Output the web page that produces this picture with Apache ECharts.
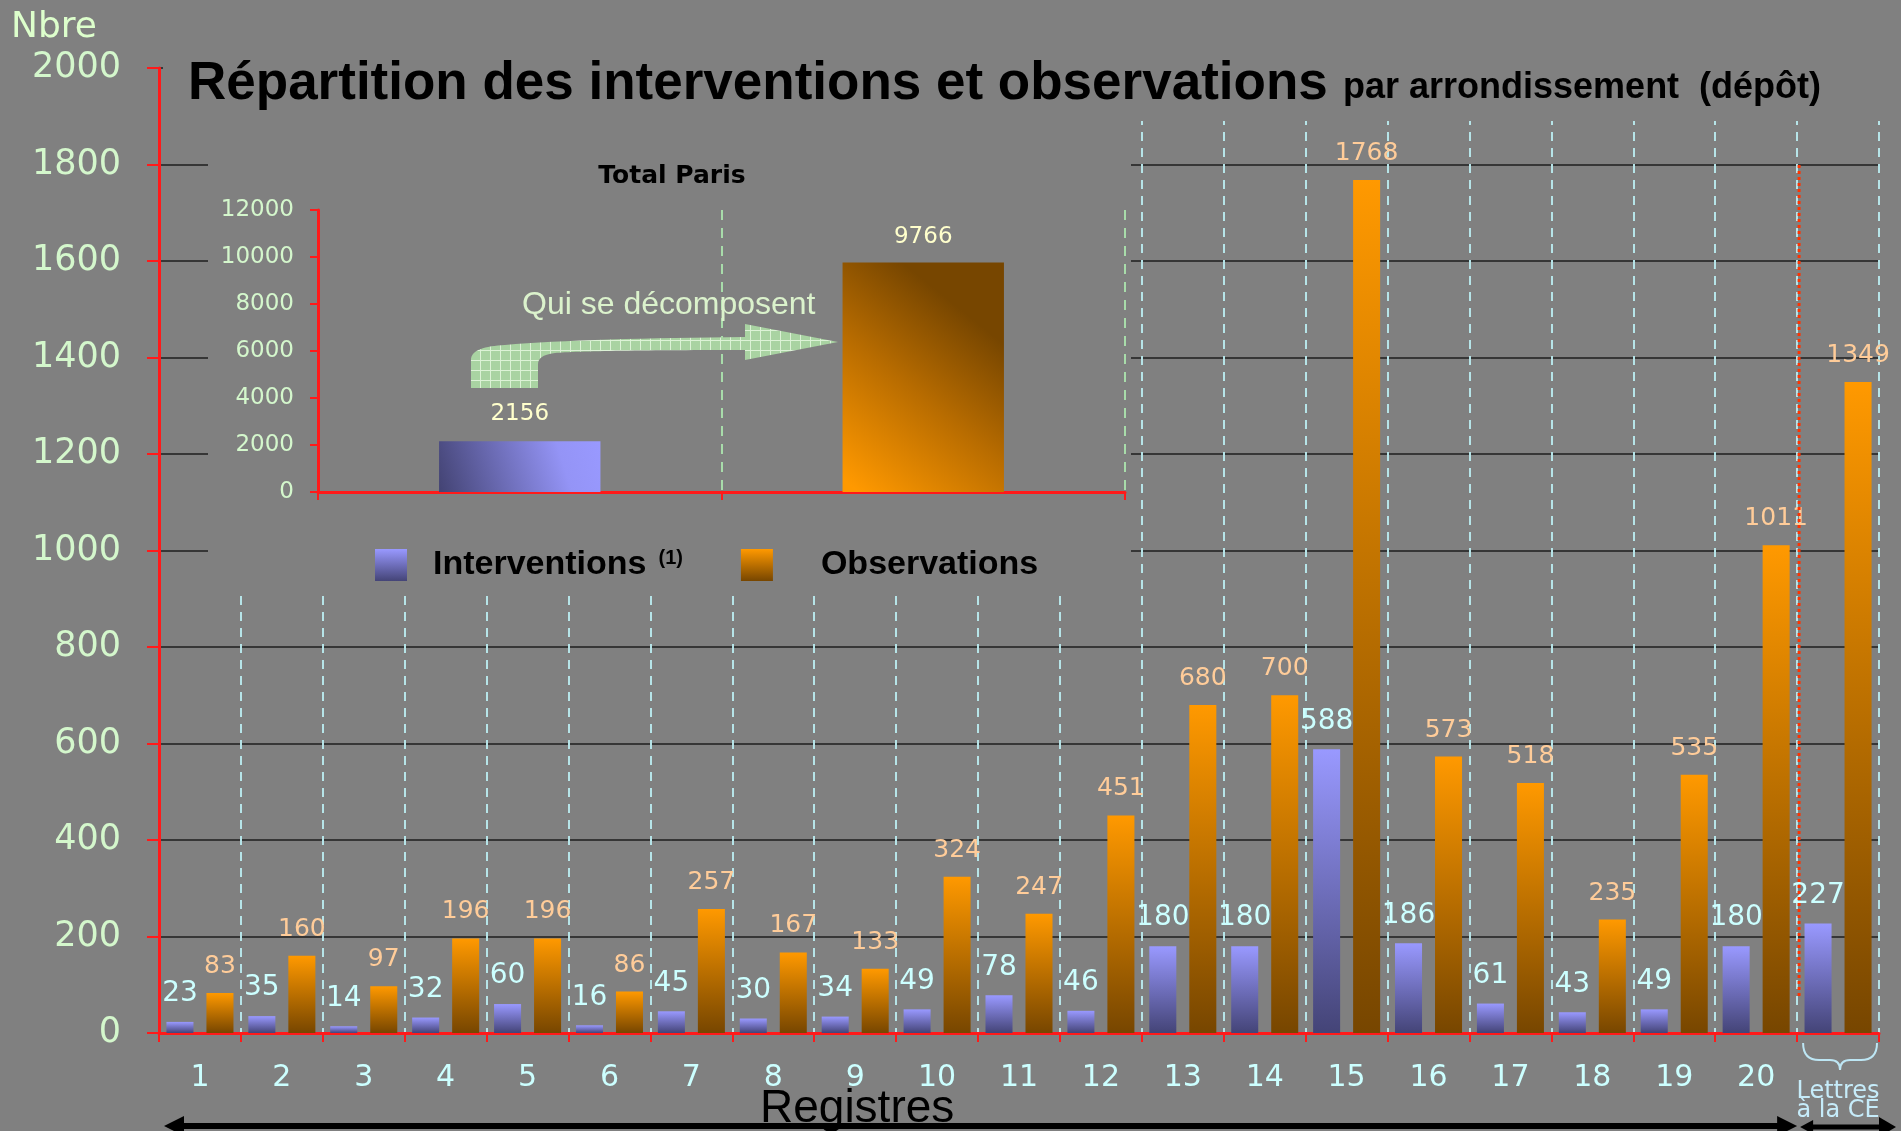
<!DOCTYPE html>
<html>
<head>
<meta charset="utf-8">
<title>Répartition des interventions et observations</title>
<script src="https://cdn.jsdelivr.net/npm/echarts@6/dist/echarts.min.js"></script>
<style>
html, body { margin: 0; padding: 0; background: #808080; }
#chart { width: 1901px; height: 1131px; }
</style>
</head>
<body>
<div id="chart"></div>
<script>
// arrondissements 1..20 + lettres
const categories = ['1', '2', '3', '4', '5', '6', '7', '8', '9', '10',
  '11', '12', '13', '14', '15', '16', '17', '18', '19', '20', 'Lettres à la CE']
const interventions = [23, 35, 14, 32, 60, 16, 45, 30, 34, 49,
  78, 46, 180, 180, 588, 186, 61, 43, 49, 180, 227]
const observations = [83, 160, 97, 196, 196, 86, 257, 167, 133, 324,
  247, 451, 680, 700, 1768, 573, 518, 235, 535, 1011, 1349]

// encart "Total Paris"
const totalCategories = ['Interventions', 'Observations']
const totals = [2156, 9766]

const SANS = "'Liberation Sans', Arial, sans-serif"
const WIDE = "'DejaVu Sans', Verdana, sans-serif"
const BG = '#808080'
const RED = '#ff1a1a'
const LETTRES = 'Lettres à la CE'

const GRID = { left: 159, top: 68, width: 1720, height: 965 }
const CAT_W = GRID.width / categories.length
const LETTRES_X = GRID.left + 20 * CAT_W
const INSET = { left: 318, top: 210, width: 807, height: 282 }

const interGrad = new echarts.graphic.LinearGradient(0, 0, 0, 1, [
  { offset: 0, color: '#9999ff' },
  { offset: 1, color: '#444477' },
])
const obsGrad = new echarts.graphic.LinearGradient(0, 0, 0, 1, [
  { offset: 0, color: '#ff9900' },
  { offset: 1, color: '#774600' },
])
const insetInterGrad = new echarts.graphic.LinearGradient(0, 1, 1, 0, [
  { offset: 0, color: '#434373' },
  { offset: 0.75, color: '#9494f6' },
  { offset: 1, color: '#9999ff' },
])
const insetObsGrad = new echarts.graphic.LinearGradient(0.1, 1, 0.9, 0.3, [
  { offset: 0, color: '#ff9900' },
  { offset: 0.55, color: '#b86c00' },
  { offset: 1, color: '#774600' },
])

// motif quadrillé de la flèche
const pat = document.createElement('canvas')
pat.width = 10
pat.height = 10
const pctx = pat.getContext('2d')
pctx.fillStyle = '#a9d3a2'
pctx.fillRect(0, 0, 10, 10)
pctx.fillStyle = '#dcf2d6'
pctx.fillRect(0, 0, 10, 1)
pctx.fillRect(0, 0, 1, 10)

// formes libres (flèche courbe, accolade)
const braceX0 = LETTRES_X + 6
const braceX1 = GRID.left + GRID.width - 2
const braceMid = (braceX0 + braceX1) / 2
const bracePath =
  `M${braceX0} 1043 Q${braceX0} 1060 ${braceX0 + 16} 1060 L${braceMid - 10} 1060 ` +
  `Q${braceMid} 1060 ${braceMid} 1070 Q${braceMid} 1060 ${braceMid + 10} 1060 ` +
  `L${braceX1 - 16} 1060 Q${braceX1} 1060 ${braceX1} 1043`
const arrowPath =
  'M471 388 L471 360 C471 350 485 346 505 345 C560 340 650 338 745 337 L745 324 L838 342 ' +
  'L745 360 L745 350 C650 350 575 351 555 353 C542 355 538 358 538 365 L538 388 Z'
echarts.graphic.registerShape('brace', echarts.graphic.extendPath(bracePath))
echarts.graphic.registerShape('bentArrow', echarts.graphic.extendPath(arrowPath))

const chart = echarts.init(document.getElementById('chart'))

const labelStyle = (color, size) => ({
  show: true,
  position: 'top',
  distance: 14,
  color,
  fontFamily: WIDE,
  fontSize: size,
})

const plain = v => String(v)

chart.setOption({
  backgroundColor: BG,
  animation: false,
  title: [
    {
      text: 'Répartition des interventions et observations',
      left: 188, top: 58, padding: 0,
      textStyle: { fontFamily: SANS, fontSize: 53, fontWeight: 'bold', color: '#000', lineHeight: 53 },
    },
    {
      text: 'par arrondissement  (dépôt)',
      left: 1343, top: 70, padding: 0,
      textStyle: { fontFamily: SANS, fontSize: 36, fontWeight: 'bold', color: '#000', lineHeight: 36 },
    },
  ],
  legend: {
    data: ['Interventions', 'Observations'],
    left: 375, top: 548, padding: 0,
    itemWidth: 32, itemHeight: 32, itemGap: 58,
    icon: 'rect',
    selectedMode: false,
    formatter: name => name === 'Interventions' ? '{a|Interventions}{s|(1)}' : '{b|Observations}',
    textStyle: {
      rich: {
        a: { fontFamily: SANS, fontSize: 34, fontWeight: 'bold', color: '#000', lineHeight: 34, padding: [0, 0, 0, 21] },
        s: { fontFamily: SANS, fontSize: 20, fontWeight: 'bold', color: '#000', lineHeight: 20, padding: [0, 0, 0, 12], verticalAlign: 'top' },
        b: { fontFamily: SANS, fontSize: 34, fontWeight: 'bold', color: '#000', lineHeight: 34, padding: [0, 0, 0, 43] },
      },
    },
  },
  grid: [
    { ...GRID, outerBoundsMode: 'none' },
    { ...INSET, outerBoundsMode: 'none' },
  ],
  xAxis: [
    {
      type: 'category',
      data: categories.map(c => c === LETTRES
        ? { value: c, textStyle: { fontFamily: WIDE, fontSize: 24, lineHeight: 19, color: '#c6ecfa' } }
        : c),
      gridIndex: 0,
      axisLine: { lineStyle: { color: RED, width: 3 } },
      axisTick: { show: true, interval: 0, length: 9, lineStyle: { color: RED, width: 2 } },
      axisLabel: {
        interval: 0, margin: 30, color: '#ccffff', fontFamily: WIDE, fontSize: 30, lineHeight: 30,
        formatter: v => v === LETTRES ? '\nLettres\nà la CE' : v,
      },
      splitLine: { show: true, interval: 0, lineStyle: { color: '#b6e4e8', width: 2, type: [9, 7] } },
    },
    {
      type: 'category',
      data: totalCategories,
      gridIndex: 1,
      z: 5,
      axisLine: { lineStyle: { color: RED, width: 3 } },
      axisTick: { show: true, interval: 0, length: 8, lineStyle: { color: RED, width: 2 } },
      axisLabel: { show: false },
      splitLine: { show: true, interval: 0, lineStyle: { color: '#a8dcaa', width: 2, type: [10, 8] } },
    },
  ],
  yAxis: [
    {
      type: 'value',
      gridIndex: 0,
      min: 0, max: 2000, interval: 200,
      axisLine: { show: true, lineStyle: { color: RED, width: 3 } },
      axisTick: { show: true, length: 12, lineStyle: { color: RED, width: 2 } },
      axisLabel: { margin: 38, color: '#d4f7cc', fontFamily: WIDE, fontSize: 35, formatter: plain },
      splitLine: { show: true, lineStyle: { color: '#1e1e1e', width: 1.5 } },
    },
    {
      type: 'value',
      gridIndex: 1,
      z: 5,
      min: 0, max: 12000, interval: 2000,
      axisLine: { show: true, lineStyle: { color: RED, width: 3 } },
      axisTick: { show: true, length: 8, lineStyle: { color: RED, width: 2 } },
      axisLabel: { margin: 24, color: '#d4f7cc', fontFamily: WIDE, fontSize: 23, formatter: plain },
      splitLine: { show: false },
    },
  ],
  series: [
    {
      name: 'Interventions',
      type: 'bar',
      data: interventions,
      barWidth: '33%',
      barGap: '48%',
      itemStyle: { color: interGrad },
      label: labelStyle('#ccffff', 28),
    },
    {
      name: 'Observations',
      type: 'bar',
      data: observations,
      barWidth: '33%',
      barGap: '48%',
      itemStyle: { color: obsGrad },
      label: labelStyle('#ffcc99', 25),
    },
    {
      name: 'Interventions',
      type: 'bar',
      xAxisIndex: 1, yAxisIndex: 1,
      z: 5,
      data: [totals[0], '-'],
      barWidth: '40%',
      barGap: '-100%',
      itemStyle: { color: insetInterGrad },
      label: { ...labelStyle('#ffffcc', 23), distance: 16 },
    },
    {
      name: 'Observations',
      type: 'bar',
      xAxisIndex: 1, yAxisIndex: 1,
      z: 5,
      data: ['-', totals[1]],
      barWidth: '40%',
      barGap: '-100%',
      itemStyle: { color: insetObsGrad },
      label: { ...labelStyle('#ffffcc', 23), distance: 14 },
    },
  ],
  graphic: [
    // bandeau du titre et fond de l'encart (masquent les lignes de grille)
    { type: 'rect', z: 1, silent: true, shape: { x: 163, y: 40, width: 1738, height: 81 }, style: { fill: BG } },
    { type: 'rect', z: 1, silent: true, shape: { x: 208, y: 121, width: 923, height: 473 }, style: { fill: BG } },
    // séparation "Lettres à la CE"
    {
      type: 'line', z: 10, silent: true,
      shape: { x1: LETTRES_X + 2, y1: 165, x2: LETTRES_X + 2, y2: 997 },
      style: { stroke: '#ff3300', lineWidth: 3, lineDash: [3, 3] },
    },
    { type: 'brace', z: 10, silent: true, style: { stroke: '#bde6f4', lineWidth: 2, fill: null } },
    // flèche "Qui se décomposent"
    { type: 'bentArrow', z: 6, silent: true, style: { fill: { image: pat, repeat: 'repeat' } } },
    {
      type: 'text', z: 7, silent: true, x: 522, y: 305,
      style: { text: 'Qui se décomposent', fontFamily: SANS, fontSize: 32, fill: '#dbf2cc', align: 'left', verticalAlign: 'middle' },
    },
    {
      type: 'text', z: 7, silent: true, x: 672, y: 176,
      style: { text: 'Total Paris', fontFamily: WIDE, fontSize: 25, fontWeight: 'bold', fill: '#000', align: 'center', verticalAlign: 'middle' },
    },
    {
      type: 'text', z: 7, silent: true, x: 11, y: 28,
      style: { text: 'Nbre', fontFamily: WIDE, fontSize: 36, fill: '#ddffcc', align: 'left', verticalAlign: 'middle' },
    },
    // flèche "Registres"
    {
      type: 'line', z: 10, silent: true,
      shape: { x1: 178, y1: 1126, x2: LETTRES_X - 14, y2: 1126 },
      style: { stroke: '#000', lineWidth: 6 },
    },
    { type: 'polygon', z: 10, silent: true, shape: { points: [[164, 1126], [184, 1116], [184, 1136]] }, style: { fill: '#000' } },
    {
      type: 'polygon', z: 10, silent: true,
      shape: { points: [[LETTRES_X, 1126], [LETTRES_X - 20, 1116], [LETTRES_X - 20, 1136]] },
      style: { fill: '#000' },
    },
    {
      type: 'line', z: 10, silent: true,
      shape: { x1: LETTRES_X + 10, y1: 1127, x2: 1882, y2: 1127 },
      style: { stroke: '#000', lineWidth: 5 },
    },
    {
      type: 'polygon', z: 10, silent: true,
      shape: { points: [[LETTRES_X + 3, 1127], [LETTRES_X + 16, 1120], [LETTRES_X + 16, 1134]] },
      style: { fill: '#000' },
    },
    { type: 'polygon', z: 10, silent: true, shape: { points: [[1896, 1127], [1879, 1117], [1879, 1137]] }, style: { fill: '#000' } },
    {
      type: 'text', z: 11, silent: true, x: 760, y: 1109,
      style: { text: 'Registres', fontFamily: SANS, fontSize: 46, fill: '#000', align: 'left', verticalAlign: 'middle' },
    },
  ],
})

window.addEventListener('resize', () => chart.resize())
</script>
</body>
</html>
